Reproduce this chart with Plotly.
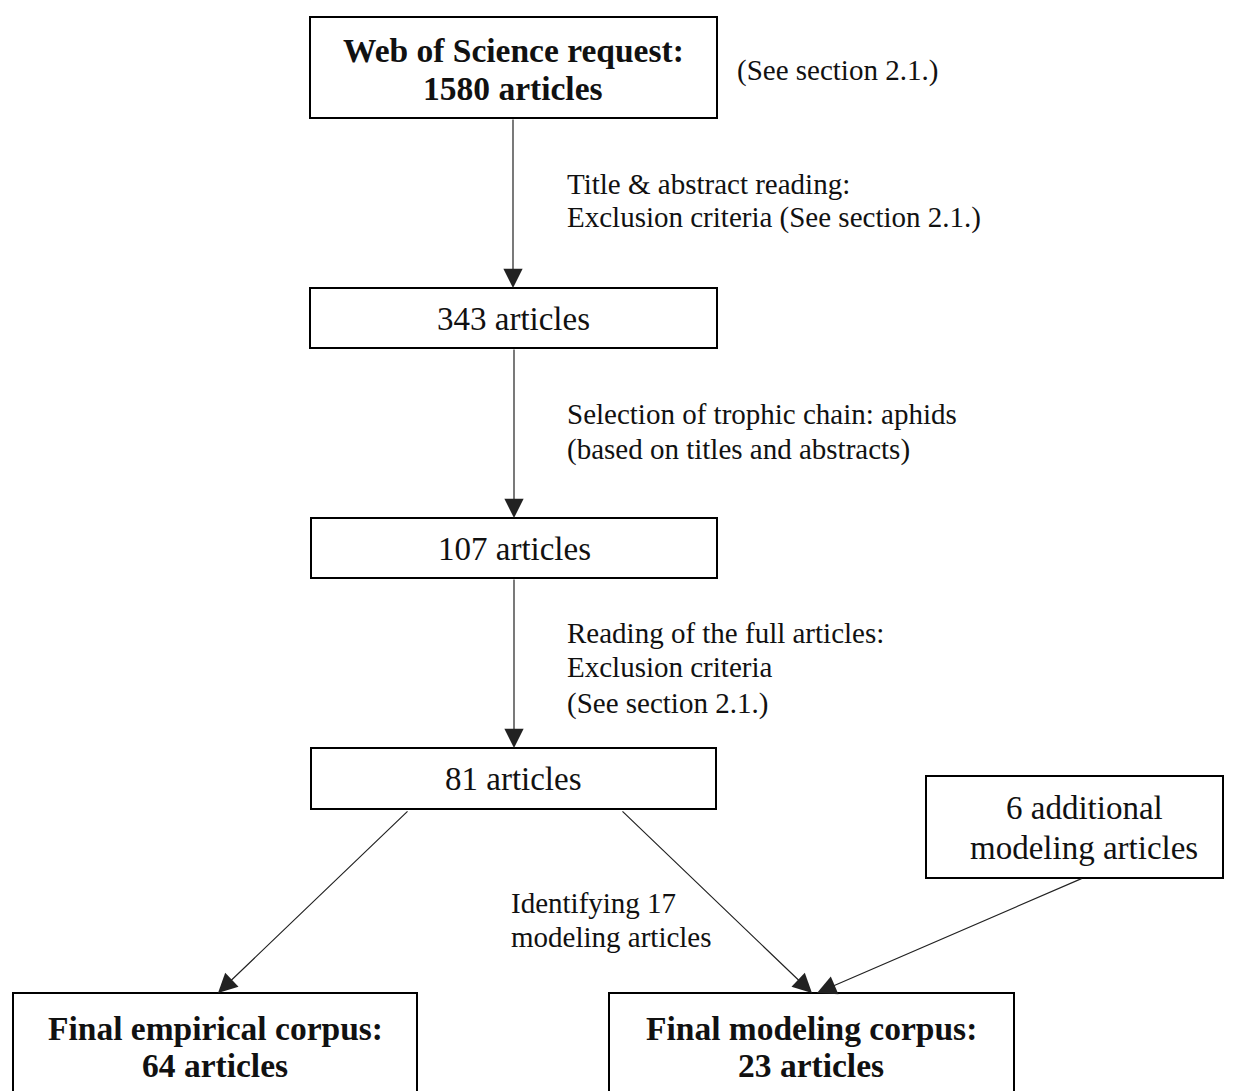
import plotly.graph_objects as go

# ---- content ----
node_lines = [
    ["Web of Science request:", "1580 articles"],
    ["343 articles"],
    ["107 articles"],
    ["81 articles"],
    ["6 additional", "modeling articles"],
    ["Final empirical corpus:", "64 articles"],
    ["Final modeling corpus:", "23 articles"],
]
node_bold = [True, False, False, False, False, True, True]

edge_label_lines = [
    ["Title & abstract reading:", "Exclusion criteria (See section 2.1.)"],
    ["Selection of trophic chain: aphids", "(based on titles and abstracts)"],
    ["Reading of the full articles:", "Exclusion criteria", "(See section 2.1.)"],
    ["Identifying 17", "modeling articles"],
]
side_note = "(See section 2.1.)"

# ---- layout geometry (pixel space of the page) ----
W, H = 1233, 1091
OFF = 8  # default page body margin
box_x0 = [310, 310, 311, 311, 926, 13, 609]
box_x1 = [717, 717, 717, 716, 1223, 417, 1014]
box_y0 = [17, 288, 518, 748, 776, 993, 993]
box_y1 = [118, 348, 578, 809, 878, 1105, 1105]
node_cx = [513, 513, 514, 513, 1084, 215, 811]
node_line_y = [[50, 88], [319], [549], [779], [808, 848], [1028, 1065], [1028, 1065]]

arr_tail_x = [513, 514, 514, 409, 621, 1083]
arr_tail_y = [118, 348, 578, 810, 810, 878]
arr_tip_x = [513, 514, 514, 218, 812, 817]
arr_tip_y = [288, 518, 748, 993, 993, 993]

lab_x = [565, 565, 565, 509]
lab_line_y = [[184, 217], [414, 449], [633, 667, 703], [903, 937]]

FONT = "Liberation Serif, Times New Roman, serif"
TXT = "#111111"

fig = go.Figure()
fig.add_trace(go.Scatter(x=[OFF, W], y=[OFF, H], mode="markers",
                         marker=dict(opacity=0), hoverinfo="skip", showlegend=False))

for i, lines in enumerate(node_lines):
    fig.add_shape(type="rect", xref="x", yref="y",
                  x0=box_x0[i], x1=box_x1[i], y0=box_y0[i], y1=box_y1[i],
                  line=dict(color="black", width=2), fillcolor="white", layer="below")
    for ln, yy in zip(lines, node_line_y[i]):
        txt = f"<b>{ln}</b>" if node_bold[i] else ln
        fig.add_annotation(x=node_cx[i], y=yy, xref="x", yref="y", text=txt,
                           showarrow=False, xanchor="center", yanchor="middle",
                           font=dict(family=FONT, size=33.5 if node_bold[i] else 33, color=TXT))

for i in range(len(arr_tail_x)):
    fig.add_annotation(x=arr_tip_x[i], y=arr_tip_y[i], ax=arr_tail_x[i], ay=arr_tail_y[i],
                       xref="x", yref="y", axref="x", ayref="y", text="",
                       showarrow=True, arrowhead=2, arrowsize=3.2, arrowwidth=1.2,
                       arrowcolor="#222222", standoff=0)

for i, lines in enumerate(edge_label_lines):
    for ln, yy in zip(lines, lab_line_y[i]):
        fig.add_annotation(x=lab_x[i], y=yy, xref="x", yref="y", text=ln,
                           showarrow=False, xanchor="left", yanchor="middle", align="left",
                           font=dict(family=FONT, size=29, color=TXT))

fig.add_annotation(x=735, y=70, xref="x", yref="y", text=side_note,
                   showarrow=False, xanchor="left", yanchor="middle", align="left",
                   font=dict(family=FONT, size=29, color=TXT))

fig.update_layout(
    width=W - OFF, height=H - OFF, margin=dict(l=0, r=0, t=0, b=0),
    paper_bgcolor="white", plot_bgcolor="white",
    xaxis=dict(range=[OFF, W], visible=False, fixedrange=True),
    yaxis=dict(range=[H, OFF], visible=False, fixedrange=True),
    showlegend=False,
)

fig.write_html("out.html")
